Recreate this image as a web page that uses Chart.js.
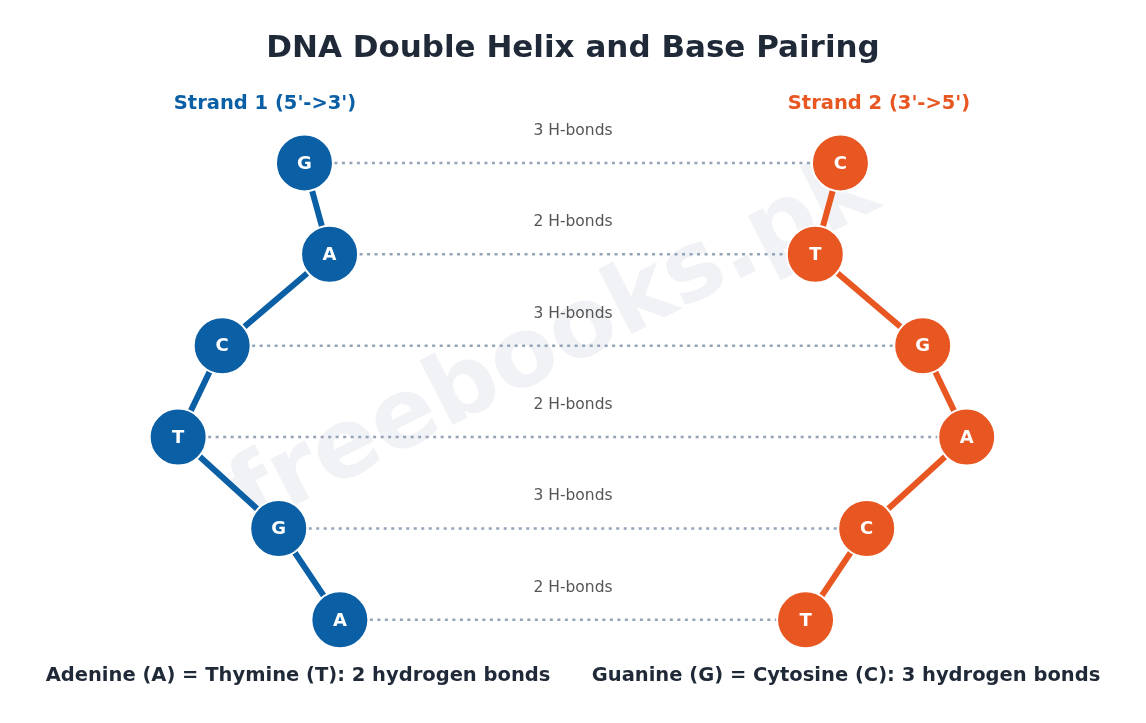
<!DOCTYPE html>
<html><head><meta charset="utf-8">
<script src="https://cdn.jsdelivr.net/npm/chart.js@4"></script>
<style>html,body{margin:0;padding:0;background:#fff}#c{display:block}</style>
</head><body>
<canvas id="c" width="1146" height="723"></canvas>
<script>
const strand1Bases = ['G','A','C','T','G','A'];
const strand2Bases = ['C','T','G','A','C','T'];
const strand1X = [26.5, 28.7, 19.3, 15.45, 24.25, 29.6];
const strand2X = [73.4, 71.2, 80.6, 84.45, 75.7, 70.35];
const bondLabels = ['3 H-bonds','2 H-bonds','3 H-bonds','2 H-bonds','3 H-bonds','2 H-bonds'];
const pairIndex = [0,1,2,3,4,5];

const BLUE = '#0b5fa5', ORANGE = '#e85722', GRID = '#94a3b8';
const ds = [];
pairIndex.forEach(i => {
  ds.push({type:'line', data:[{x:strand1X[i], y:i},{x:strand2X[i], y:i}], borderColor:GRID, borderWidth:2.5,
    borderDash:[3,4.5], pointRadius:0, order:3, bond:bondLabels[i]});
});
ds.push({type:'line', data:pairIndex.map(i=>({x:strand1X[i],y:i})), borderColor:BLUE, borderWidth:6,
  pointRadius:28.5, pointBackgroundColor:BLUE, pointBorderColor:'#fff', pointBorderWidth:2, order:1, bases:strand1Bases});
ds.push({type:'line', data:pairIndex.map(i=>({x:strand2X[i],y:i})), borderColor:ORANGE, borderWidth:6,
  pointRadius:28.5, pointBackgroundColor:ORANGE, pointBorderColor:'#fff', pointBorderWidth:2, order:1, bases:strand2Bases});

const deco = {
  id:'deco',
  beforeDatasetsDraw(chart){
    const c = chart.ctx;
    c.save();
    c.translate(555,345); c.rotate(-27*Math.PI/180);
    c.font='bold 96px "DejaVu Sans"'; c.fillStyle='rgba(200,205,215,0.25)';
    c.textAlign='center'; c.textBaseline='middle'; c.fillText('freebooks.pk',0,0);
    c.restore();
  },
  afterDatasetsDraw(chart){
    const c = chart.ctx, xs = chart.scales.x, ys = chart.scales.y;
    c.save();
    c.textAlign='center'; c.textBaseline='middle';
    chart.data.datasets.forEach((d,di)=>{
      if(d.bases){
        const meta = chart.getDatasetMeta(di);
        c.font='bold 18px "DejaVu Sans"'; c.fillStyle='#fff';
        meta.data.forEach((p,k)=>c.fillText(d.bases[k],p.x,p.y+1));
      }
      if(d.bond){
        c.font='15.5px "DejaVu Sans"'; c.fillStyle='#555';
        c.fillText(d.bond, xs.getPixelForValue(50), ys.getPixelForValue(d.data[0].y)-32);
      }
    });
    c.fillStyle='#1f2937'; c.font='bold 31px "DejaVu Sans"';
    c.fillText('DNA Double Helix and Base Pairing',573,49);
    c.font='bold 19.5px "DejaVu Sans"';
    c.fillStyle=BLUE; c.fillText("Strand 1 (5'->3')",265,104);
    c.fillStyle=ORANGE; c.fillText("Strand 2 (3'->5')",879,104);
    c.fillStyle='#1f2937';
    c.fillText('Adenine (A) = Thymine (T): 2 hydrogen bonds',298,676);
    c.fillText('Guanine (G) = Cytosine (C): 3 hydrogen bonds',846,676);
    c.restore();
  }
};

new Chart(document.getElementById('c'), {
  type:'line',
  data:{datasets:ds},
  options:{
    responsive:false, animation:false,
    layout:{padding:0},
    plugins:{legend:{display:false}, tooltip:{enabled:false}},
    scales:{
      x:{type:'linear', min:2.53, max:97.47, display:false},
      y:{type:'linear', min:-1.449, max:5.795, reverse:true, display:false}
    }
  },
  plugins:[deco]
});
</script>
</body></html>
